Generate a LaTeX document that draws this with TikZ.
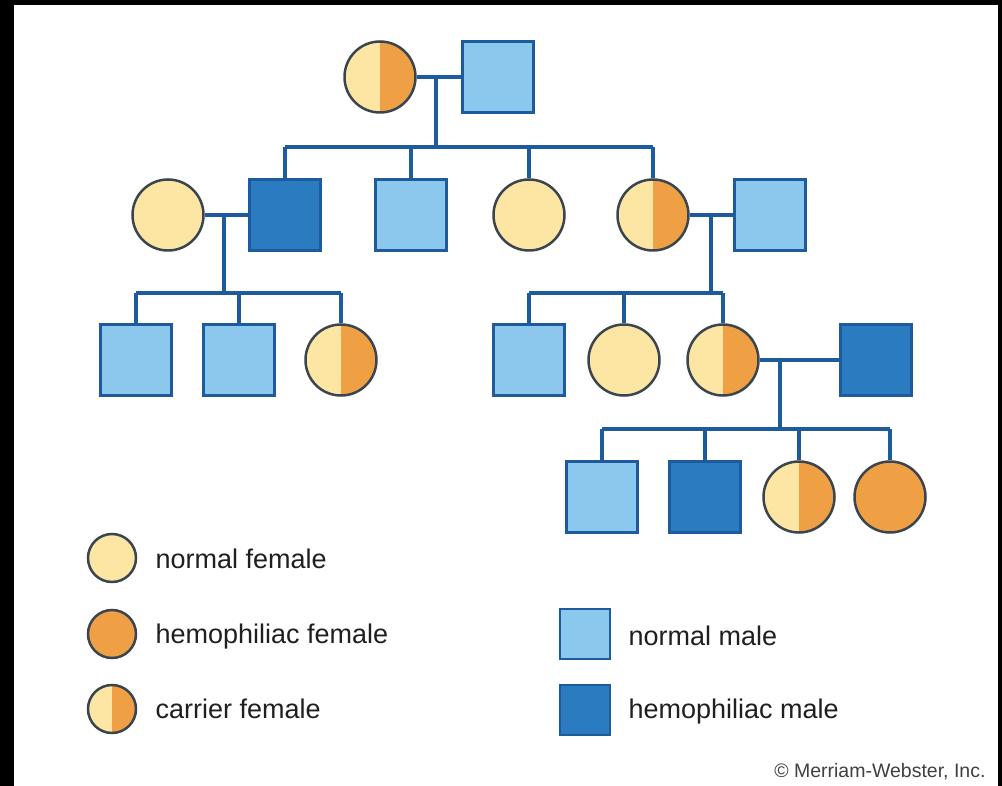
\documentclass[tikz,border=0pt]{standalone}
\usepackage{fontspec}
\setmainfont{Liberation Sans}
\definecolor{palyel}{HTML}{FDE6A4}
\definecolor{hemorg}{HTML}{EFA044}
\definecolor{palblu}{HTML}{8CC8EE}
\definecolor{hemblu}{HTML}{2A7BBF}
\definecolor{linblu}{HTML}{1E5B9C}
\definecolor{rimgry}{HTML}{3B4550}
\begin{document}
\begin{tikzpicture}[x=1pt,y=-1pt,
            fem/.style={circle,draw=rimgry,line width=2.5pt,minimum size=71pt,inner sep=0pt},
            mal/.style={rectangle,draw=linblu,line width=2.5pt,minimum size=71pt,inner sep=0pt},
            nf/.style={fem,fill=palyel},
            hf/.style={fem,fill=hemorg},
            cf/.style={fem,fill=palyel,path picture={\fill[hemorg] (path picture bounding box.north) rectangle (path picture bounding box.south east);}},
            nm/.style={mal,fill=palblu},
            hm/.style={mal,fill=hemblu},
            link/.style={draw=linblu,line width=3.2pt},
            key/.style={anchor=base west,text=black!88,font=\fontsize{27}{32}\selectfont}]
            \fill[black] (0,0) rectangle (1002,786);
            \fill[white] (14,5) rectangle (998,786);
            % first generation
            \node[cf] (F1) at (380,77) {};
            \node[nm] (M1) at (498,77) {};
            % second generation
            \node[nf] (A) at (168,215) {};
            \node[hm] (B) at (285,215) {};
            \node[nm] (C) at (411,215) {};
            \node[nf] (D) at (529,215) {};
            \node[cf] (E) at (653,215) {};
            \node[nm] (G) at (770,215) {};
            % third generation
            \node[nm] (H) at (136,360) {};
            \node[nm] (I) at (239,360) {};
            \node[cf] (J) at (341,360) {};
            \node[nm] (K) at (529,360) {};
            \node[nf] (L) at (624,360) {};
            \node[cf] (N) at (723,360) {};
            \node[hm] (P) at (876,360) {};
            % fourth generation
            \node[nm] (Q) at (602,497) {};
            \node[hm] (R) at (705,497) {};
            \node[cf] (S) at (799,497) {};
            \node[hf] (T) at (890,497) {};
            \coordinate (u1) at (436,147);
            \coordinate (u2) at (224,293);
            \coordinate (u3) at (711,293);
            \coordinate (u4) at (780,429);
            \begin{scope}[link]
            \draw (F1) -- (M1);
            \draw (u1 |- F1) -- (u1);
            \draw (B |- u1) -- (E |- u1);
            \foreach \c in {B,C,D,E} \draw (\c |- u1) -- (\c.north);
            \draw (A) -- (B);
            \draw (u2 |- A) -- (u2);
            \draw (H |- u2) -- (J |- u2);
            \foreach \c in {H,I,J} \draw (\c |- u2) -- (\c.north);
            \draw (E) -- (G);
            \draw (u3 |- E) -- (u3);
            \draw (K |- u3) -- (N |- u3);
            \foreach \c in {K,L,N} \draw (\c |- u3) -- (\c.north);
            \draw (N) -- (P);
            \draw (u4 |- N) -- (u4);
            \draw (Q |- u4) -- (T |- u4);
            \foreach \c in {Q,R,S,T} \draw (\c |- u4) -- (\c.north);
            \end{scope}
            % legend
            \node[nf,minimum size=48pt] (k1) at (112,558) {};
            \node[hf,minimum size=48pt] (k2) at (112,634) {};
            \node[cf,minimum size=48pt] (k3) at (112,709) {};
            \node[nm,minimum size=50pt] (k4) at (585,634) {};
            \node[hm,minimum size=50pt] (k5) at (585,710) {};
            \node[key] (t1) at (152,568) {normal female};
            \node[key] (t2) at (152,643) {hemophiliac female};
            \node[key] (t3) at (152,718) {carrier female};
            \node[key] (t4) at (625,645) {normal male};
            \node[key] (t5) at (625,718) {hemophiliac male};
            \node[anchor=base east,font=\fontsize{19.5}{23}\selectfont,text=black!75] (cr) at (989,777) {\textcopyright{} Merriam-Webster, Inc.};
          \end{tikzpicture}
\end{document}
